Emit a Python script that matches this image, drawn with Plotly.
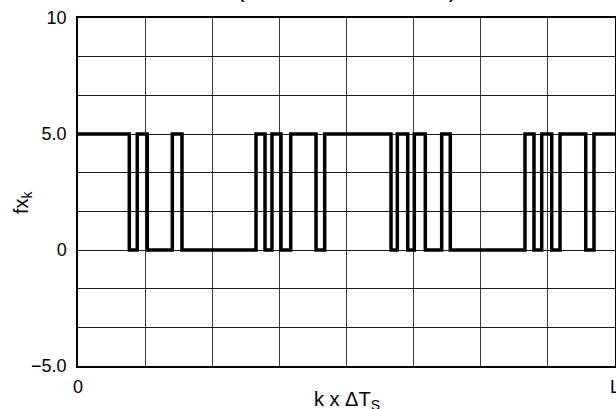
import numpy as np
import plotly.graph_objects as go

# Transition instants of the 1-bit output, in grid divisions (0 .. L = 8 divisions)
edge_times = [0.764, 0.883, 1.032, 1.405, 1.549, 2.652, 2.786, 2.890, 3.024, 3.169,
              3.546, 3.675, 4.663, 4.757, 4.912, 5.010, 5.174, 5.418, 5.546, 6.659,
              6.793, 6.908, 7.057, 7.181, 7.564, 7.687]
high_level = 5.0
low_level = 0.0
x_end = 8.0

y_tick_labels = {-5.0: "\u22125.0", 0.0: "0", 5.0: "5.0", 10.0: "10"}
x_tick_labels = ["0", "L"]

# build step waveform
xs = [0.0] + edge_times + [x_end]
ys = [high_level]
lvl = high_level
for _ in edge_times:
    lvl = low_level if lvl == high_level else high_level
    ys.append(lvl)
ys.append(lvl)

fig = go.Figure()
fig.add_trace(go.Scatter(x=xs, y=ys, mode="lines", line_shape="hv",
                         line=dict(color="black", width=3.5), showlegend=False,
                         hoverinfo="skip"))

ygrid = np.linspace(-5, 10, 10)
ytext = [y_tick_labels.get(round(v, 6), "") for v in ygrid]
xgrid = np.arange(0, 9)
xtext = [x_tick_labels[0]] + [""] * 7 + [x_tick_labels[1]]

font_family = "Liberation Sans, Arial, sans-serif"

fig.update_layout(
    width=616, height=409,
    margin=dict(l=78, r=1, t=18, b=43, autoexpand=False),
    plot_bgcolor="white", paper_bgcolor="white",
    font=dict(family=font_family, size=18, color="black"),
    xaxis=dict(range=[0, x_end], tickvals=xgrid, ticktext=xtext,
               showgrid=True, gridcolor="#3a3a3a", gridwidth=1.2,
               showline=True, linecolor="black", linewidth=1.5, mirror=True,
               ticks="", ticklabelstandoff=4, zeroline=False, automargin=False,
               ticklabeloverflow="allow"),
    yaxis=dict(range=[-5, 10], tickvals=ygrid, ticktext=ytext,
               showgrid=True, gridcolor="#1a1a1a", gridwidth=1.2,
               showline=True, linecolor="black", linewidth=1.5, mirror=True,
               ticks="", ticklabelstandoff=6, zeroline=False, automargin=False,
               ticklabeloverflow="allow"),
)

fig.add_annotation(text="k x \u0394T<sub>S</sub>", xref="paper", yref="paper",
                   x=0.5, y=0, xanchor="center", yanchor="top", yshift=-20,
                   showarrow=False, font=dict(size=20))
fig.add_annotation(text="fx<sub>k</sub>", xref="paper", yref="paper",
                   x=0, y=0.5, xanchor="center", yanchor="middle", xshift=-56, yshift=-10,
                   textangle=-90, showarrow=False, font=dict(size=20))
fig.add_annotation(text="<b>(DIGITAL OUTPUT STREAM)</b>", xref="paper", yref="paper",
                   x=0.5, y=1, yanchor="bottom", yshift=14, showarrow=False,
                   font=dict(size=16))

fig.write_html("out.html", config={"displayModeBar": False},
               post_script="document.body.style.margin='0';document.body.style.overflow='hidden';")
